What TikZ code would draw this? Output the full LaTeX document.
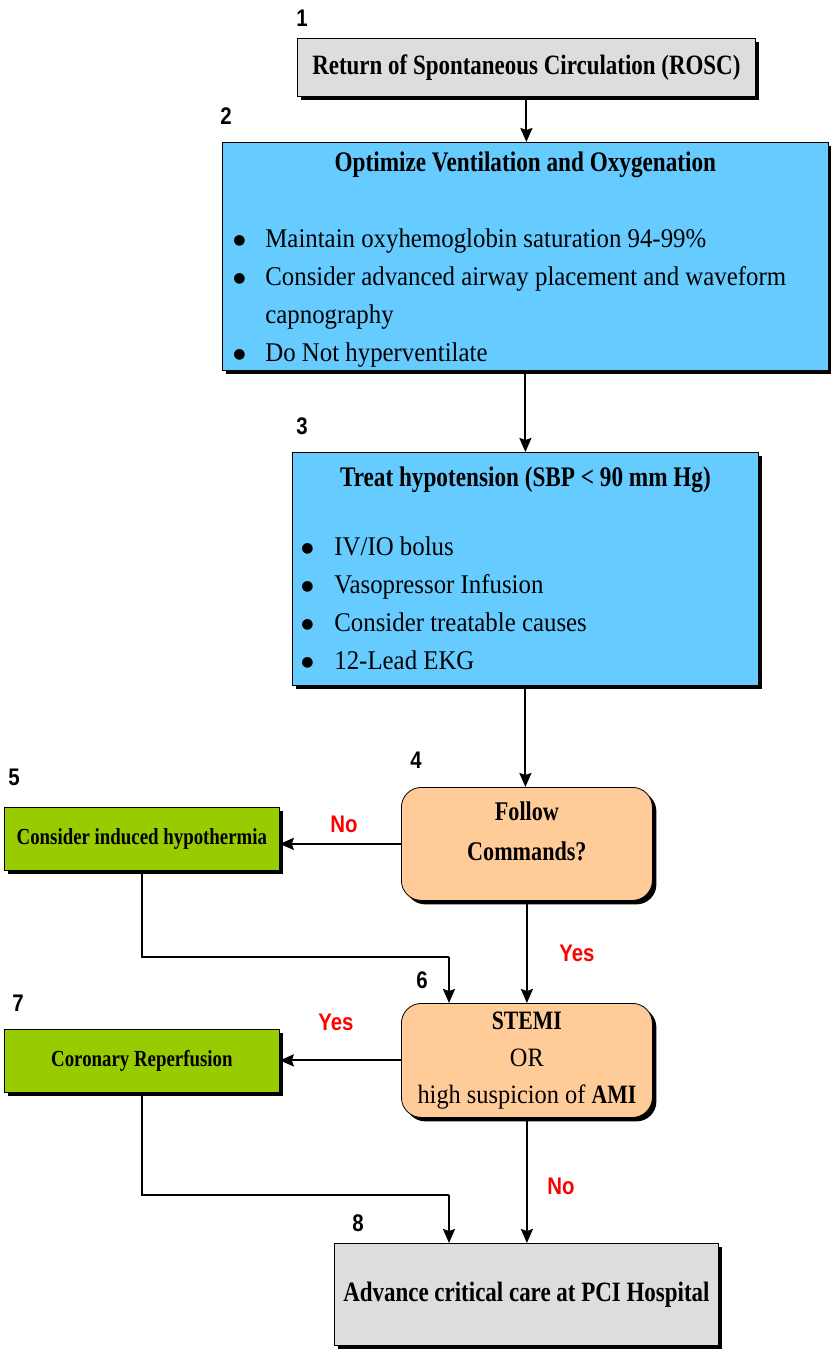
\documentclass[tikz,border=0pt]{standalone}
\usepackage{fontspec}
\setmainfont{Liberation Serif}[UprightFeatures={FakeStretch=0.92}, BoldFeatures={FakeStretch=0.82}]
\newfontfamily\labelfont{Liberation Sans}[FakeStretch=0.85]
\newfontfamily\dotfont{DejaVu Sans}
\usetikzlibrary{shadows,arrows.meta}
\definecolor{roscgray}{HTML}{DDDDDD}
\definecolor{stepblue}{HTML}{66CCFF}
\definecolor{askorange}{HTML}{FFCC99}
\definecolor{actgreen}{HTML}{99CC00}
\definecolor{answerred}{HTML}{FF0000}
\newcommand{\bigdot}{\raisebox{3.3pt}{\dotfont\fontsize{14}{14}\selectfont ●}}
\begin{document}
\begin{tikzpicture}[x=1pt,y=-1pt,
    box/.style={draw=black, line width=0.8pt, anchor=north west, inner sep=0pt,
      drop shadow={shadow xshift=4pt, shadow yshift=-4pt, opacity=1, fill=black}},
    stepnum/.style={font=\labelfont\bfseries\fontsize{24}{24}\selectfont},
    answer/.style={text=answerred, font=\labelfont\bfseries\fontsize{24}{24}\selectfont},
    arr/.style={line width=2pt, -{Stealth[length=14pt,width=12pt,inset=2pt]}},
    link/.style={line width=2pt}]
  \useasboundingbox (0,0) rectangle (830,1352);

  % boxes
  \node[box, fill=roscgray, minimum width=458pt, minimum height=58pt,
    font=\fontsize{28}{34}\selectfont\bfseries] (rosc) at (297,38)
    {Return of Spontaneous Circulation (ROSC)};
  \node[box, fill=stepblue, minimum width=606pt, minimum height=228pt,
    inner xsep=11pt, text width=584pt, text height=29pt, text depth=199pt, align=left,
    font=\fontsize{27}{38}\selectfont] (vent) at (222,142)
    {\spaceskip=0pt\xspaceskip=0pt
     \makebox[584pt]{\fontsize{28.3}{38}\selectfont\bfseries Optimize Ventilation and Oxygenation}\\[38pt]
     \begin{tabular}[t]{@{}p{32pt}@{}l@{}}
       \bigdot & Maintain oxyhemoglobin saturation 94-99\% \\
       \bigdot & Consider advanced airway placement and waveform \\
               & capnography \\
       \bigdot & Do Not hyperventilate
     \end{tabular}};
  \node[box, fill=stepblue, minimum width=466pt, minimum height=233pt,
    inner xsep=9pt, text width=448pt, text height=34pt, text depth=199pt, align=left,
    font=\fontsize{27}{38}\selectfont] (hypo) at (292,452)
    {\spaceskip=0pt\xspaceskip=0pt
     \makebox[448pt]{\fontsize{28.3}{38}\selectfont\bfseries Treat hypotension (SBP < 90 mm Hg)}\\[31pt]
     \begin{tabular}[t]{@{}p{33pt}@{}l@{}}
       \bigdot & IV/IO bolus \\
       \bigdot & Vasopressor Infusion \\
       \bigdot & Consider treatable causes \\
       \bigdot & 12-Lead EKG
     \end{tabular}};
  \node[box, fill=askorange, rounded corners=20pt, minimum width=251pt, minimum height=113pt,
    align=center, font=\fontsize{27}{40}\selectfont\bfseries] (follow) at (401,787)
    {Follow\\Commands?\\[-15pt]\mbox{}};
  \node[box, fill=actgreen, minimum width=275pt, minimum height=63pt,
    font=\fontsize{23}{28}\selectfont\bfseries] (cool) at (4,807)
    {Consider induced hypothermia};
  \node[box, fill=askorange, rounded corners=20pt, minimum width=251pt, minimum height=114pt,
    align=center, font=\fontsize{26.5}{37}\selectfont] (stemi) at (401,1003)
    {\textbf{STEMI}\\OR\\high suspicion of \textbf{AMI}};
  \node[box, fill=actgreen, minimum width=275pt, minimum height=63pt,
    font=\fontsize{23}{28}\selectfont\bfseries] (reperf) at (4,1029)
    {Coronary Reperfusion};
  \node[box, fill=roscgray, minimum width=384pt, minimum height=102pt,
    font=\fontsize{28}{34}\selectfont\bfseries] (pci) at (334,1243)
    {Advance critical care at PCI Hospital};

  % step numbers
  \node[stepnum] (n1) at (302,18) {1};
  \node[stepnum] (n2) at (226,116) {2};
  \node[stepnum] (n3) at (302,426) {3};
  \node[stepnum] (n4) at (416,760) {4};
  \node[stepnum] (n5) at (14,777) {5};
  \node[stepnum] (n6) at (422,980) {6};
  \node[stepnum] (n7) at (18,1003) {7};
  \node[stepnum] (n8) at (358,1223) {8};

  % answers
  \node[answer] (no1) at (344,824) {No};
  \node[answer] (yes1) at (577,953) {Yes};
  \node[answer] (yes2) at (336,1022) {Yes};
  \node[answer] (no2) at (561,1186) {No};

  \coordinate (cool bend) at (449,957);
  \coordinate (reperf bend) at (449,1195);

  % connectors
  \draw[arr] (rosc.south) -- (rosc.south |- vent.north);
  \draw[arr] (hypo.north |- vent.south) -- (hypo.north);
  \draw[arr] (hypo.south) -- (hypo.south |- follow.north);
  \draw[arr] (follow.west) -- (follow.west -| cool.east);
  \draw[arr] (follow.south) -- (stemi.north);
  \draw[link] (cool.south) |- (cool bend);
  \draw[arr] (cool bend) -- (cool bend |- stemi.north);
  \draw[arr] (stemi.west) -- (stemi.west -| reperf.east);
  \draw[link] (reperf.south) |- (reperf bend);
  \draw[arr] (reperf bend) -- (reperf bend |- pci.north);
  \draw[arr] (stemi.south) -- (stemi.south |- pci.north);
\end{tikzpicture}
\end{document}
